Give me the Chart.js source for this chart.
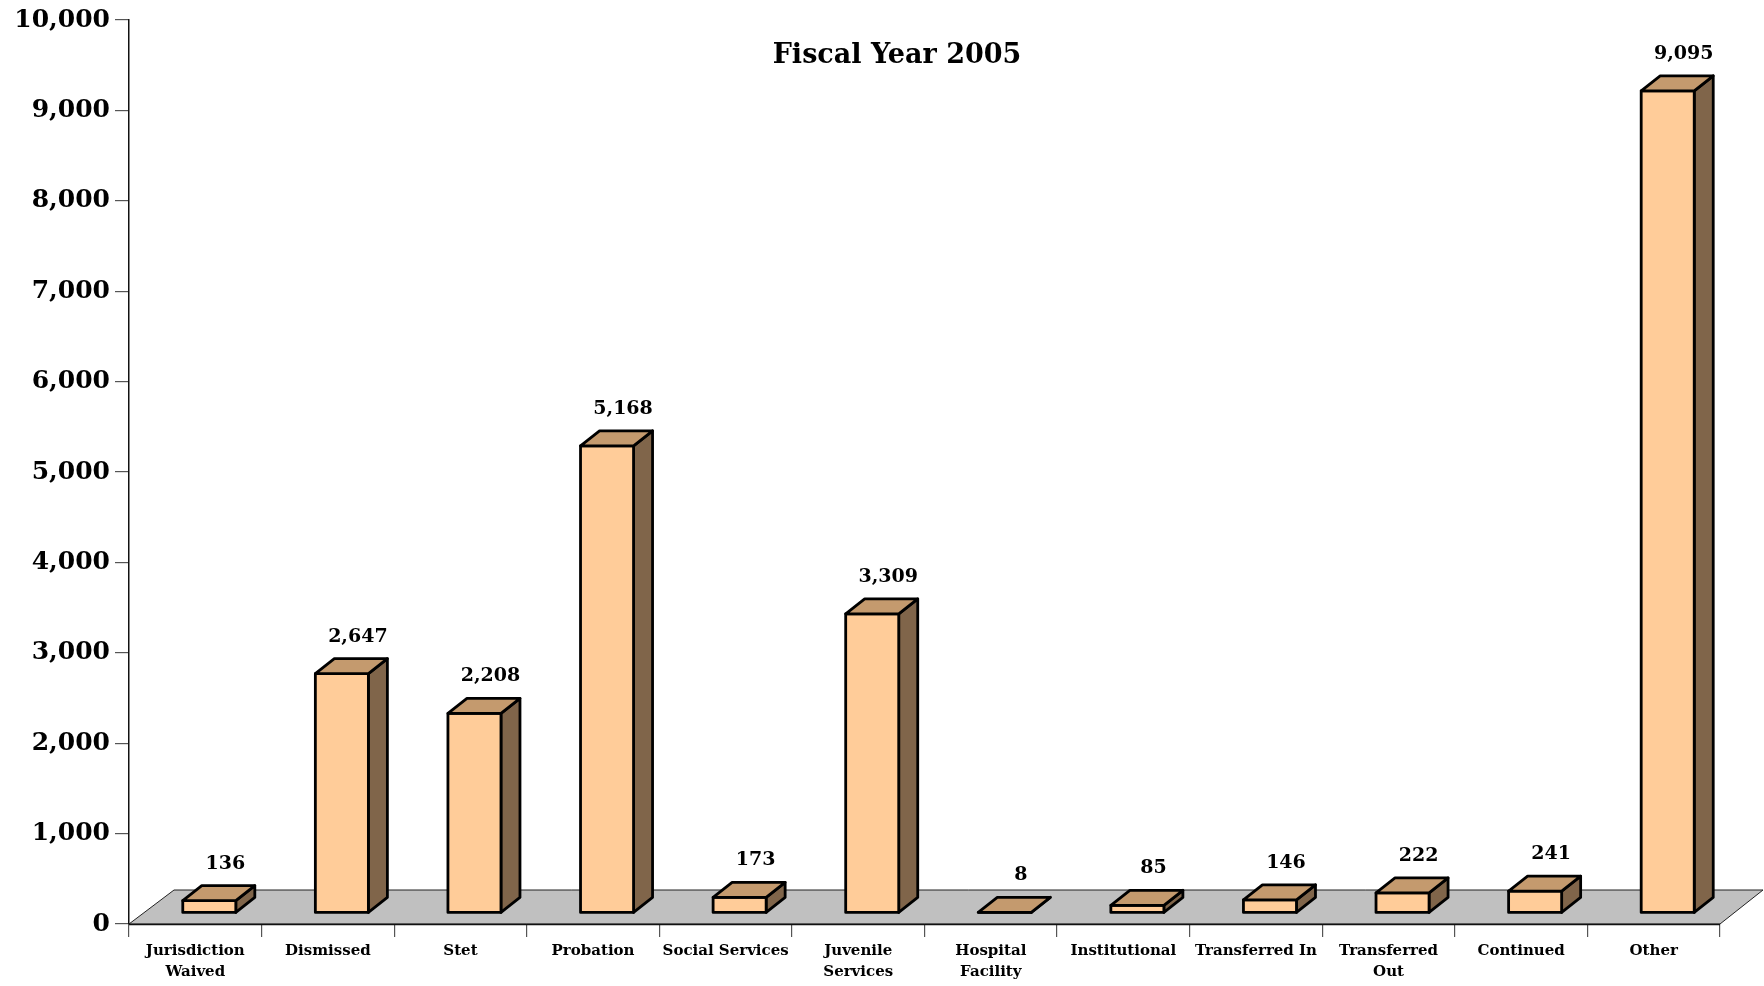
<!DOCTYPE html>
<html>
<head>
<meta charset="utf-8">
<script src="https://cdn.jsdelivr.net/npm/chart.js@4.4.1/dist/chart.umd.min.js"></script>
<style>
  html, body { margin: 0; padding: 0; background: #ffffff; }
  #wrap { width: 1764px; height: 986px; }
</style>
</head>
<body>
<div id="wrap"><canvas id="c" width="1764" height="986"></canvas></div>
<script>
const chartTitle = "Fiscal Year 2005";
const categories = [
  ["Jurisdiction", "Waived"], "Dismissed", "Stet", "Probation", "Social Services",
  ["Juvenile", "Services"], ["Hospital", "Facility"], "Institutional", "Transferred In",
  ["Transferred", "Out"], "Continued", "Other"
];
const values = [136, 2647, 2208, 5168, 173, 3309, 8, 85, 146, 222, 241, 9095];
const yTicks = [0, 1000, 2000, 3000, 4000, 5000, 6000, 7000, 8000, 9000, 10000];

const FONT = "'DejaVu Serif', serif";
const fmt = v => v.toLocaleString('en-US');

const threeD = {
  id: 'threeD',
  beforeDatasetsDraw(chart) {
    const { ctx, chartArea: a } = chart;
    const fx = 45, fy = 34;
    ctx.save();
    ctx.beginPath();
    ctx.moveTo(a.left, a.bottom);
    ctx.lineTo(a.left + fx, a.bottom - fy);
    ctx.lineTo(a.right + fx - 2, a.bottom - fy);
    ctx.lineTo(a.right, a.bottom);
    ctx.closePath();
    ctx.fillStyle = '#C0C0C0';
    ctx.fill();
    ctx.lineWidth = 1;
    ctx.strokeStyle = '#222';
    ctx.stroke();
    ctx.beginPath();
    ctx.moveTo(a.left, a.bottom + 0.5);
    ctx.lineTo(a.right, a.bottom + 0.5);
    ctx.lineWidth = 1.5;
    ctx.strokeStyle = '#111';
    ctx.stroke();
    ctx.restore();
  },
  afterDatasetsDraw(chart) {
    const { ctx, chartArea: a } = chart;
    const meta = chart.getDatasetMeta(0);
    const sx = 14, sy = -11;   // bar placed mid-depth on the floor
    const ddx = 19, ddy = 15;  // bar depth
    ctx.save();
    ctx.lineJoin = 'round';
    ctx.lineWidth = 2.8;
    ctx.strokeStyle = '#000';
    meta.data.forEach((el, i) => {
      const w = el.width;
      const x0 = el.x - w / 2 + sx, x1 = el.x + w / 2 + sx;
      const yT = el.y + sy, yB = el.base + sy;
      // side
      ctx.beginPath();
      ctx.moveTo(x1, yT); ctx.lineTo(x1 + ddx, yT - ddy);
      ctx.lineTo(x1 + ddx, yB - ddy); ctx.lineTo(x1, yB); ctx.closePath();
      ctx.fillStyle = '#80654A'; ctx.fill(); ctx.stroke();
      // front
      ctx.beginPath();
      ctx.rect(x0, yT, x1 - x0, yB - yT);
      ctx.fillStyle = '#FFCC99'; ctx.fill(); ctx.stroke();
      // top
      ctx.beginPath();
      ctx.moveTo(x0, yT); ctx.lineTo(x0 + ddx, yT - ddy);
      ctx.lineTo(x1 + ddx, yT - ddy); ctx.lineTo(x1, yT); ctx.closePath();
      ctx.fillStyle = '#C49A6E'; ctx.fill(); ctx.stroke();
      // value label
      ctx.fillStyle = '#000';
      ctx.font = "bold 19px " + FONT;
      ctx.textAlign = 'center';
      ctx.textBaseline = 'middle';
      ctx.fillText(fmt(values[i]), el.x + 30, yT - 37);
    });
    // title
    ctx.font = "bold 27px " + FONT;
    ctx.textAlign = 'center';
    ctx.textBaseline = 'middle';
    ctx.fillStyle = '#000';
    ctx.fillText(chartTitle, a.left + 768, a.top + 36);
    ctx.restore();
  }
};

new Chart(document.getElementById('c'), {
  type: 'bar',
  data: {
    labels: categories,
    datasets: [{
      data: values,
      backgroundColor: 'rgba(0,0,0,0)',
      borderWidth: 0,
      barPercentage: 0.4,
      categoryPercentage: 1.0
    }]
  },
  options: {
    responsive: false,
    animation: false,
    events: [],
    layout: { padding: { top: 17, right: 44, left: 0, bottom: 0 } },
    plugins: { legend: { display: false }, tooltip: { enabled: false }, title: { display: false } },
    scales: {
      x: {
        afterFit(s) { s.height = 62; },
        grid: { display: true, offset: true, drawOnChartArea: false, tickLength: 13, color: '#555', lineWidth: 1.2 },
        border: { display: true, color: '#111', width: 1.5 },
        ticks: {
          color: '#000', padding: 4, maxRotation: 0, autoSkip: false,
          font: { family: FONT, weight: 'bold', size: 15, lineHeight: 1.4 }
        }
      },
      y: {
        min: 0, max: 10000,
        afterFit(s) { s.width = 129; },
        afterBuildTicks(s) { s.ticks = yTicks.map(v => ({ value: v })); },
        grid: { display: true, drawOnChartArea: false, tickLength: 14, color: '#555', lineWidth: 1.2 },
        border: { display: true, color: '#111', width: 1.5 },
        ticks: {
          color: '#000', padding: 5,
          callback: v => fmt(v),
          font: { family: FONT, weight: 'bold', size: 25 }
        }
      }
    }
  },
  plugins: [threeD]
});
</script>
</body>
</html>
